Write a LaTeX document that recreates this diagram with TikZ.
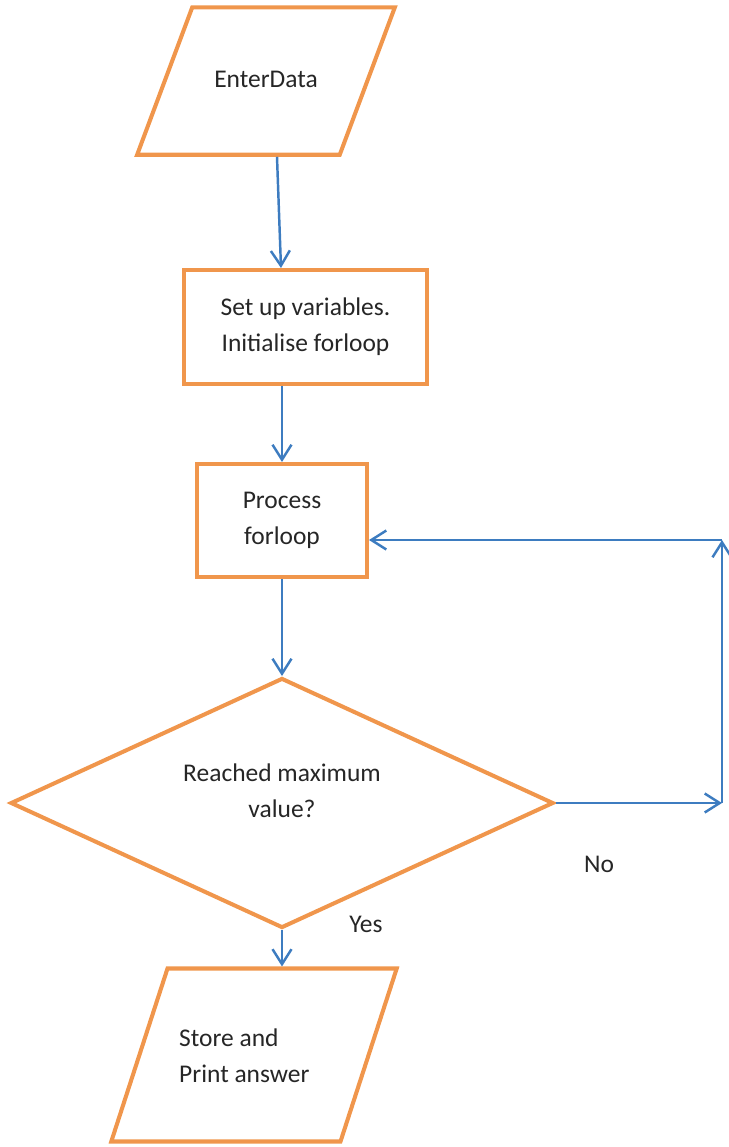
\documentclass[tikz,border=0pt]{standalone}
\usepackage{fontspec}
\setmainfont{Carlito}
\usetikzlibrary{shapes.geometric,arrows.meta,positioning}
\definecolor{boxorange}{RGB}{240,150,76}
\definecolor{arrowblue}{RGB}{61,124,192}
\tikzset{
  box/.style={draw=boxorange,line width=2.3pt,rectangle,align=center,inner sep=0pt},
  iobox/.style={draw=boxorange,line width=2.3pt,trapezium,trapezium left angle=69.5,
    trapezium right angle=110.5,inner sep=2pt},
  decide/.style={draw=boxorange,line width=2.3pt,diamond,inner sep=2pt},
  flow/.style={draw=arrowblue,line width=1.4pt,-{Straight Barb[length=0.3cm,width=0.38cm]}},
}
\begin{document}
\begin{tikzpicture}[font=\fontsize{14.5}{20.5}\selectfont,text=black!85]
\useasboundingbox (0,0) rectangle (14.58,-22.94);
% Boxes
\node[iobox,minimum width=5.16cm,minimum height=2.76cm] (enter) at (5.32,-1.62) {};
\node (entertxt) at ([yshift=0.03cm]enter.center) {EnterData};
\node[box,minimum width=4.86cm,minimum height=2.28cm] (setup) at (6.11,-6.54)
  {Set up variables.\\ Initialise forloop};
\node[box,minimum width=3.4cm,minimum height=2.26cm] (proc) at (5.64,-10.41)
  {Process\\forloop};
\node[decide,minimum width=10.86cm,minimum height=5.0cm] (check) at (5.64,-16.06) {};
\node[align=center] (checktxt) at ([yshift=0.24cm]check.center) {Reached maximum\\value?};
\node[iobox,trapezium left angle=72,trapezium right angle=108,
  minimum width=5.6cm,minimum height=3.46cm] (store) at (5.08,-21.1) {};
\node[align=left,anchor=west] (storetxt) at (3.46,-21.12) {Store and\\Print answer};
% Labels
\node (yes) at (7.32,-18.48) {Yes};
\node (no) at (11.98,-17.28) {No};
% Loop corners
\coordinate (looptop) at (14.44,-10.8);
\coordinate (loopbot) at (check.east -| looptop);
% Connectors
\draw[flow] (enter.south -| 5.54,0) -- (setup.north -| 5.62,0);
\draw[flow] (setup.south -| proc.north) -- (proc.north);
\draw[flow] (proc.south) -- (check.north);
\draw[flow] (check.south) -- (store.north -| check.south);
\draw[flow] (check.east) -- (loopbot);
\draw[flow] (loopbot) -- (looptop);
\draw[flow] (looptop) -- (looptop -| proc.east);
\end{tikzpicture}
\end{document}
